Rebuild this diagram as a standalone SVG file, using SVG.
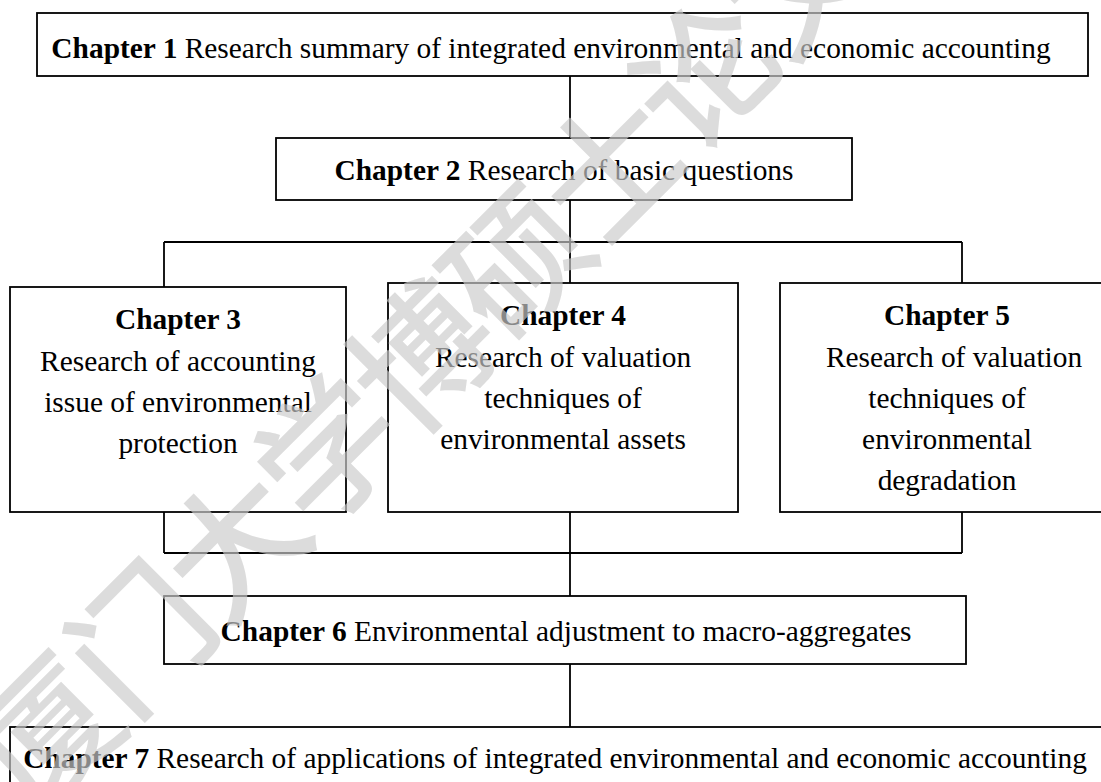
<svg xmlns="http://www.w3.org/2000/svg" width="1101" height="782" viewBox="0 0 1101 782">
  <style>
    .box { fill: #ffffff; stroke: #000000; stroke-width: 1.8; }
    .t { font-family: "Liberation Serif", "Times New Roman", serif; font-size: 29.4px; fill: #000000; text-anchor: middle; }
    .b { font-weight: bold; }
    .conn line { stroke: #000000; stroke-width: 1.8; }
    .wm { font-family: "Noto Sans CJK SC", sans-serif; font-size: 138px; font-weight: 500; fill: #cbcbcb; fill-opacity: 0.67; text-anchor: middle; dominant-baseline: central; }
  </style>
  <rect x="0" y="0" width="1101" height="782" fill="#ffffff"/>

  <g id="connectors" class="conn">
    <line x1="570" y1="76" x2="570" y2="138"/>
    <line x1="570" y1="200" x2="570" y2="283"/>
    <line x1="164" y1="242" x2="962" y2="242"/>
    <line x1="164" y1="242" x2="164" y2="287"/>
    <line x1="962" y1="242" x2="962" y2="283"/>
    <line x1="164" y1="512" x2="164" y2="553"/>
    <line x1="962" y1="512" x2="962" y2="553"/>
    <line x1="164" y1="553" x2="962" y2="553"/>
    <line x1="570" y1="512" x2="570" y2="596"/>
    <line x1="570" y1="664" x2="570" y2="727"/>
  </g>

  <g id="chapter1">
    <rect class="box" x="37" y="13" width="1051" height="63"/>
    <text class="t" x="551" y="57.5"><tspan class="b">Chapter 1</tspan> Research summary of integrated environmental and economic accounting</text>
  </g>

  <g id="chapter2">
    <rect class="box" x="276" y="138" width="576" height="62"/>
    <text class="t" x="564" y="180"><tspan class="b">Chapter 2</tspan> Research of basic questions</text>
  </g>

  <g id="chapter3">
    <rect class="box" x="10" y="287" width="336" height="225"/>
    <text class="t b" x="178" y="329">Chapter 3</text>
    <text class="t" x="178" y="370.5">Research of accounting</text>
    <text class="t" x="178" y="411.5">issue of environmental</text>
    <text class="t" x="178" y="452.5">protection</text>
  </g>

  <g id="chapter4">
    <rect class="box" x="388" y="283" width="350" height="229"/>
    <text class="t b" x="563" y="325">Chapter 4</text>
    <text class="t" x="563" y="366.5">Research of valuation</text>
    <text class="t" x="563" y="408">techniques of</text>
    <text class="t" x="563" y="449">environmental assets</text>
  </g>

  <g id="chapter5">
    <rect class="box" x="780" y="283" width="334" height="229"/>
    <text class="t b" x="947" y="325">Chapter 5</text>
    <text class="t" x="954" y="366.5">Research of valuation</text>
    <text class="t" x="947" y="408">techniques of</text>
    <text class="t" x="947" y="449">environmental</text>
    <text class="t" x="947" y="490">degradation</text>
  </g>

  <g id="chapter6">
    <rect class="box" x="164" y="596" width="802" height="68"/>
    <text class="t" x="566" y="641"><tspan class="b">Chapter 6</tspan> Environmental adjustment to macro-aggregates</text>
  </g>

  <g id="chapter7">
    <rect class="box" x="10" y="727" width="1100" height="70"/>
    <text class="t" x="555" y="768"><tspan class="b">Chapter 7</tspan> Research of applications of integrated environmental and economic accounting</text>
  </g>

  <g id="watermark">
    <text class="wm" x="415" y="352" transform="rotate(-45 415 352)" letter-spacing="-5">厦门大学博硕士论文</text>
  </g>
</svg>
